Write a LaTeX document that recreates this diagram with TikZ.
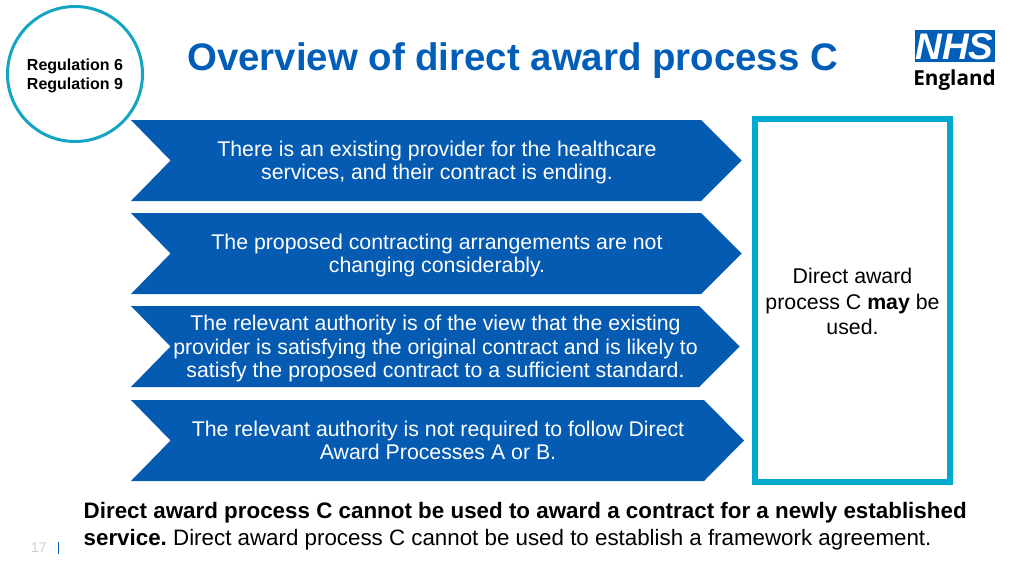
\documentclass[tikz,border=0pt]{standalone}
\usepackage{fontspec}
\setmainfont{Liberation Sans}
\newfontfamily\logofont{Open Sans}
\definecolor{nhsblue}{RGB}{0,94,184}
\definecolor{chevblue}{RGB}{5,90,178}
\definecolor{teal}{RGB}{0,169,206}
\definecolor{ringteal}{RGB}{20,165,195}
\tikzset{
  chev/.style={fill=chevblue,draw=none},
  chevtext/.style={text=white,align=center,font=\fontsize{21.3}{23.1}\selectfont,inner sep=0pt},
}
\begin{document}
\begin{tikzpicture}[x=1pt,y=-1pt]
\useasboundingbox (0,0) rectangle (1024,576);
\fill[white] (0,0) rectangle (1024,576);
% chevrons
\fill[chev] (131,120) -- (701,120) -- (741.5,160.5) -- (701,201) -- (131,201) -- (170.5,160.5) -- cycle;
\fill[chev] (131,213) -- (701,213) -- (741.5,253.5) -- (701,294) -- (131,294) -- (170.5,253.5) -- cycle;
\fill[chev] (131,306) -- (699,306) -- (739.5,346.5) -- (699,387) -- (131,387) -- (170.5,346.5) -- cycle;
\fill[chev] (131,400) -- (704,400) -- (744,440.5) -- (704,481) -- (131,481) -- (170.5,440.5) -- cycle;
\node[chevtext,anchor=center] (t1) at (437,162.5) {There is an existing provider for the healthcare\\services, and their contract is ending.};
\node[chevtext,anchor=center] (t2) at (437,255.5) {The proposed contracting arrangements are not\\changing considerably.};
\node[chevtext,anchor=center] (t3) at (435.5,348.5) {The relevant authority is of the view that the existing\\provider is satisfying the original contract and is likely to\\satisfy the proposed contract to a sufficient standard.};
\node[chevtext,anchor=center] (t4) at (438,440) {The relevant authority is not required to follow Direct\\Award Processes A or B.};
% circle
\node[circle,draw=ringteal,line width=3pt,fill=white,minimum size=135pt,inner sep=0pt] (reg) at (75,74) {};
\node[align=center,inner sep=0pt,font=\bfseries\fontsize{16}{19.2}\selectfont] (regt) at (75,76) {Regulation 6\\Regulation 9};
% title
\node[anchor=west,inner sep=0pt,text=nhsblue,font=\bfseries\fontsize{38.4}{40}\selectfont] (title) at (187,60.5) {Overview of direct award process C};
% box
\node[draw=teal,line width=6.4pt,fill=white,minimum width=195pt,minimum height=362.5pt,inner sep=0pt] (box) at (852.5,300.5) {};
\node[align=center,inner sep=0pt,font=\fontsize{21.3}{25.8}\selectfont] (boxt) at (852.5,301.5) {Direct award\\process C \textbf{may} be\\used.};
% logo
\node[fill=nhsblue,minimum width=80pt,minimum height=32pt,inner sep=0pt] (logo) at (955,46) {};
\node[text=white,inner sep=0pt,font=\bfseries\itshape\fontsize{37}{37}\selectfont] (nhs) at (954.5,47) {NHS};
\node[inner sep=0pt,font=\logofont\bfseries\fontsize{20.7}{24}\selectfont] (eng) at (954.5,80) {England};
% bottom text
\node[anchor=base west,inner sep=0pt,font=\fontsize{22.38}{26}\selectfont] (b1) at (83.5,518) {\textbf{Direct award process C cannot be used to award a contract for a newly established}};
\node[anchor=base west,inner sep=0pt,font=\fontsize{22.33}{26}\selectfont] (b2) at (83.5,545) {\textbf{service.}\hspace{-2pt} Direct award process C cannot be used to establish a framework agreement.};
% page number
\node[anchor=base,inner sep=0pt,text=black!18,font=\fontsize{14}{14}\selectfont] (pg) at (39,552) {17};
\draw[nhsblue,line width=1pt] (58.5,542) -- (58.5,554);
\end{tikzpicture}
\end{document}
